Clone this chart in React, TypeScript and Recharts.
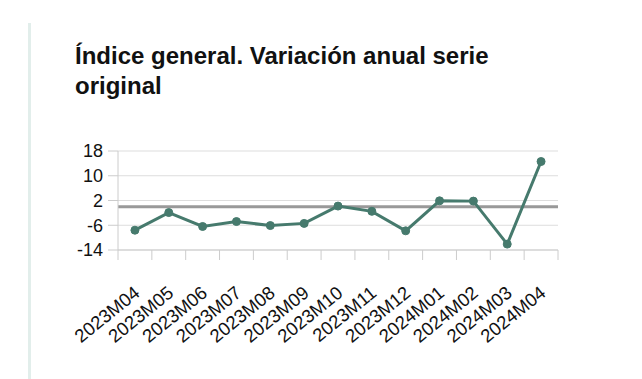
import React from "react";
import { LineChart, Line, XAxis, YAxis, CartesianGrid, ReferenceLine } from "recharts";

const periods = [
  "2023M04", "2023M05", "2023M06", "2023M07", "2023M08", "2023M09", "2023M10",
  "2023M11", "2023M12", "2024M01", "2024M02", "2024M03", "2024M04",
];
const variation = [-7.6, -1.9, -6.4, -4.8, -6.1, -5.4, 0.2, -1.5, -7.8, 1.9, 1.8, -12.1, 14.6];
const yTicks = [18, 10, 2, -6, -14];

const data = periods.map((p, i) => ({ name: p, value: variation[i] }));

const W = 642;
const H = 379;
const M = { top: 151, right: 84, bottom: 9, left: 58 };
const BAND = (W - M.left - M.right - 60) / periods.length;
const FONT = "Liberation Sans, Arial, sans-serif";

function XTick(props: any) {
  const { x, y, payload, index } = props;
  const last = index === periods.length - 1;
  const ax = x + 6;
  const ay = y + 37;
  return (
    <g>
      <line x1={x - BAND / 2} y1={y - 8} x2={x - BAND / 2} y2={y + 2} stroke="#ccc" />
      {last && <line x1={x + BAND / 2} y1={y - 8} x2={x + BAND / 2} y2={y + 2} stroke="#ccc" />}
      <text
        x={ax}
        y={ay}
        textAnchor="end"
        fontSize={18.5}
        fill="#111"
        fontFamily={FONT}
        transform={`rotate(-39, ${ax}, ${ay})`}
      >
        {payload.value}
      </text>
    </g>
  );
}

export default function App() {
  return (
    <div style={{ position: "absolute", left: 0, top: 0, width: W, height: H, background: "#fff" }}>
      <div style={{ position: "absolute", left: 28, top: 23, width: 3, height: H - 23, background: "#e2eeeb" }} />
      <div
        style={{
          position: "absolute",
          left: 75,
          top: 41,
          width: 450,
          fontFamily: FONT,
          fontWeight: "bold",
          fontSize: 24,
          lineHeight: "30px",
          color: "#111",
        }}
      >
        Índice general. Variación anual serie original
      </div>
      <div style={{ position: "absolute", left: 0, top: 0 }}>
        <LineChart width={W} height={H} data={data} margin={M}>
          <CartesianGrid horizontal vertical={false} stroke="#ddd" />
          <XAxis
            dataKey="name"
            scale="band"
            height={120}
            interval={0}
            tickLine={false}
            axisLine={{ stroke: "#ccc" }}
            tick={<XTick />}
          />
          <YAxis
            width={60}
            domain={[-14, 18]}
            ticks={yTicks}
            interval={0}
            axisLine={{ stroke: "#ccc" }}
            tickSize={10}
            tickMargin={5}
            tickLine={{ stroke: "#ccc" }}
            tick={{ fontSize: 18, fill: "#111", fontFamily: FONT }}
          />
          <ReferenceLine y={0} stroke="#999" strokeWidth={3} />
          <Line
            type="linear"
            dataKey="value"
            stroke="#467a6d"
            strokeWidth={3}
            dot={{ r: 4, fill: "#467a6d", stroke: "#467a6d", strokeWidth: 1 }}
            isAnimationActive={false}
          />
        </LineChart>
      </div>
    </div>
  );
}
